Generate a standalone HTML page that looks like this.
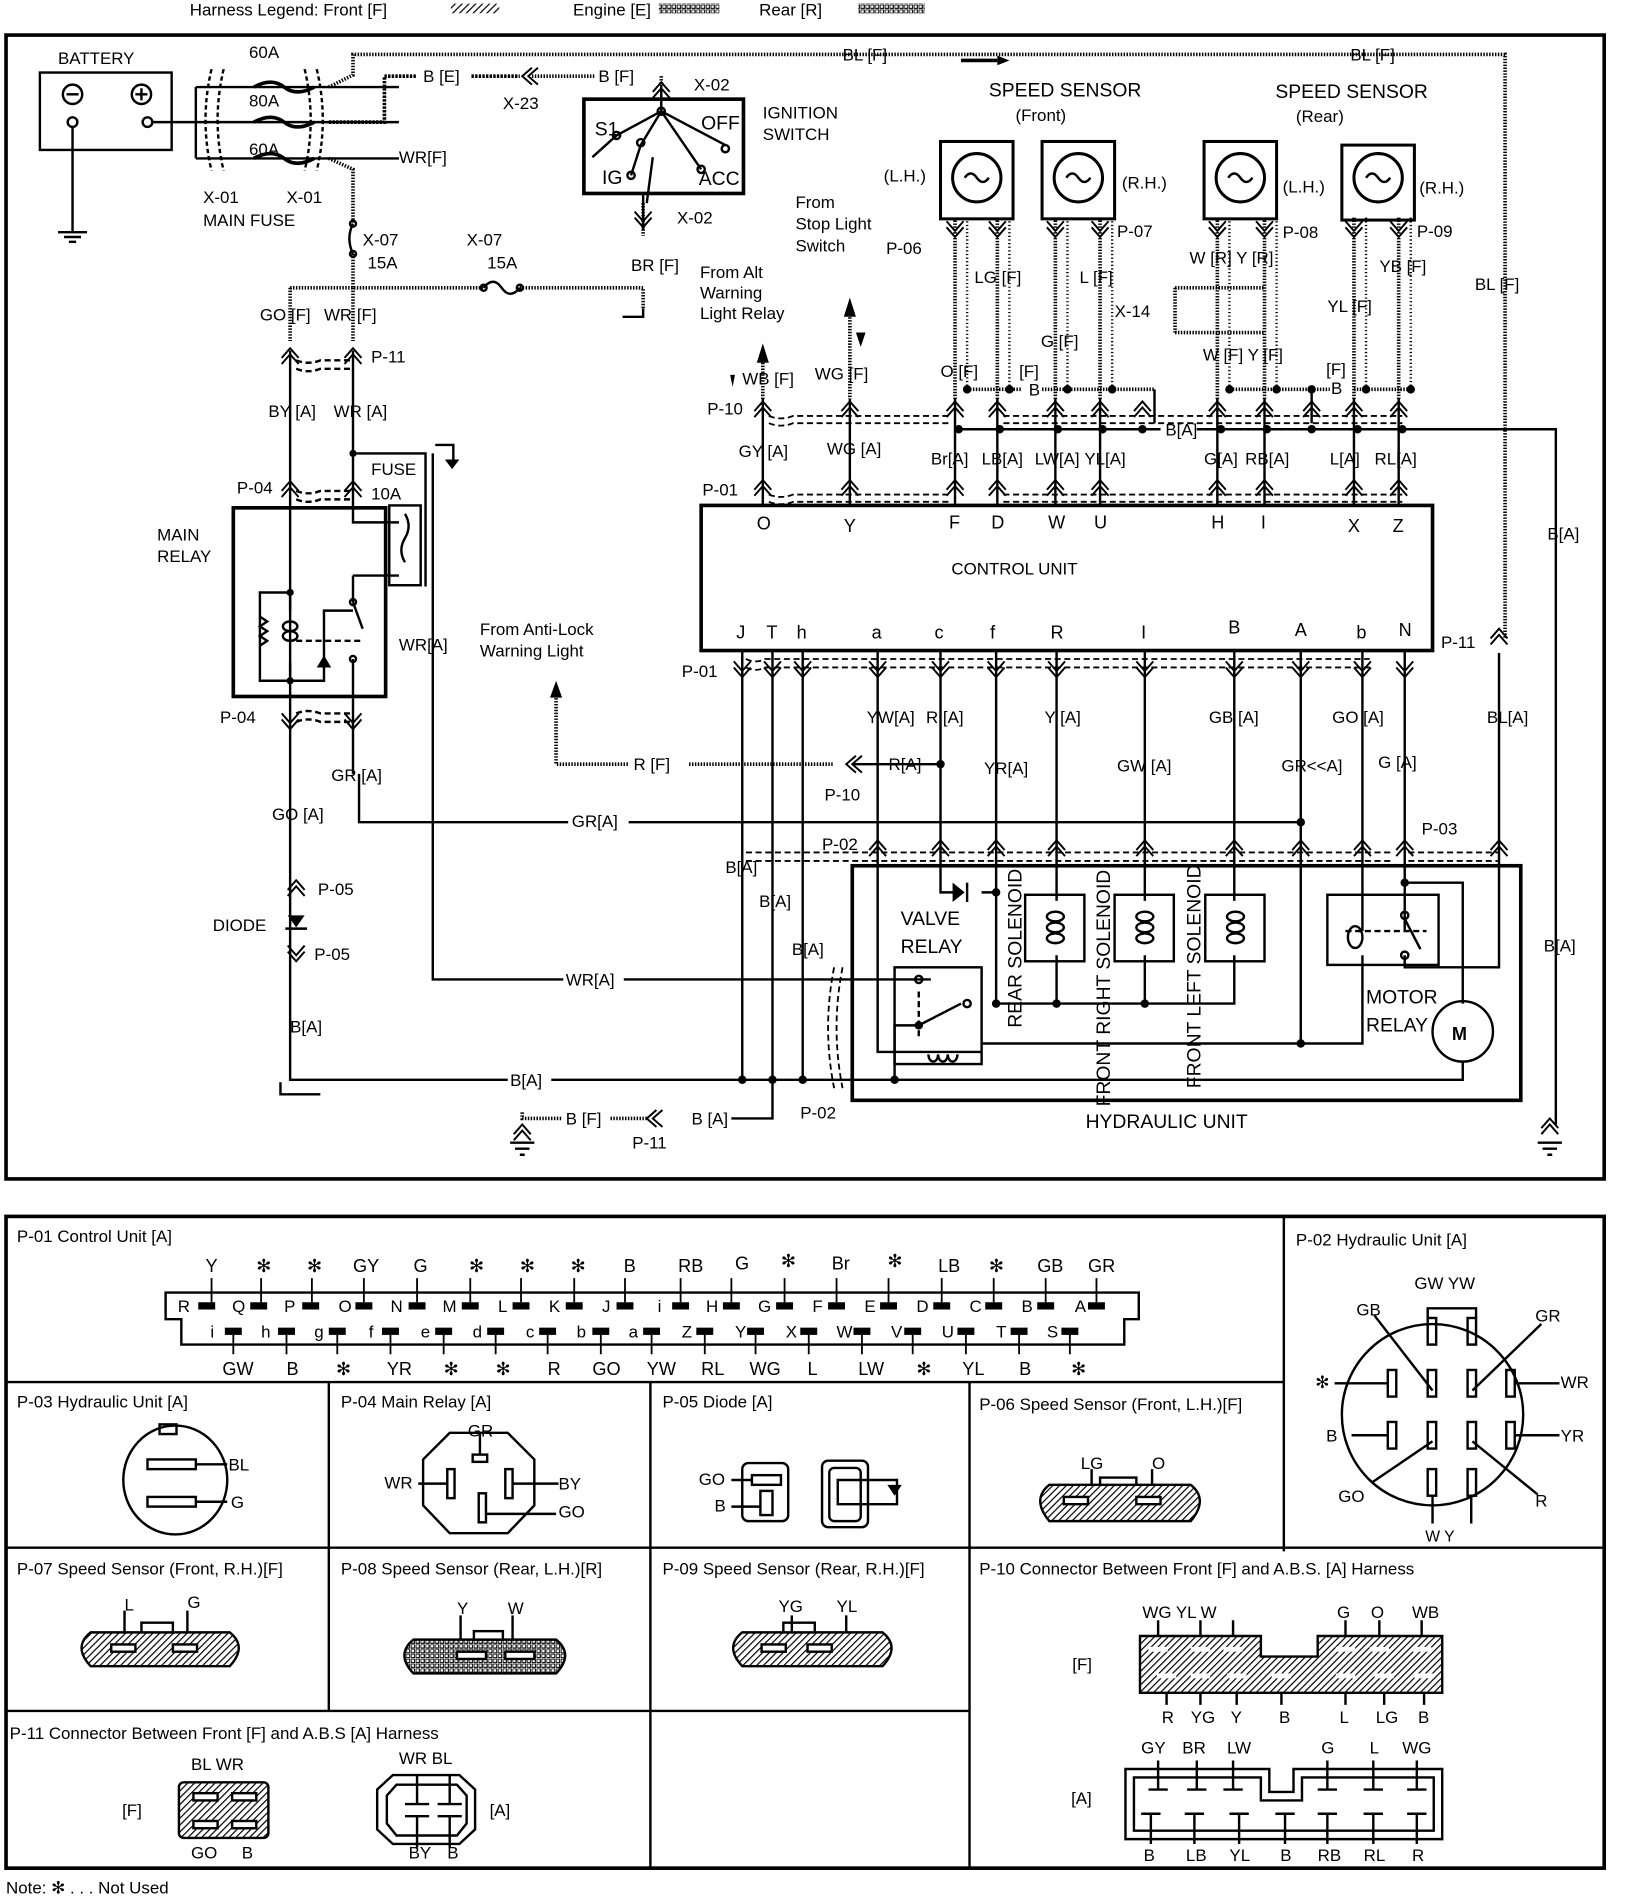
<!DOCTYPE html>
<html><head><meta charset="utf-8"><style>
html,body{margin:0;padding:0;background:#fff}
svg{display:block}
text{font-family:"Liberation Sans Narrow","Liberation Sans",sans-serif;fill:#000}
</style></head><body>
<svg width="1632" height="1902" viewBox="0 0 1350 1573" preserveAspectRatio="none" xmlns="http://www.w3.org/2000/svg">
<defs>
<pattern id="hf" width="4" height="4" patternUnits="userSpaceOnUse" patternTransform="rotate(45)"><rect width="4" height="4" fill="#fff"/><line x1="0" y1="0" x2="0" y2="4" stroke="#000" stroke-width="2"/></pattern>
<pattern id="he" width="4" height="4" patternUnits="userSpaceOnUse"><rect width="4" height="4" fill="#fff"/><rect width="3" height="3" fill="none" stroke="#000" stroke-width="1"/></pattern>
<g id="cu" fill="none" stroke="#000" stroke-width="1.6"><path d="M-7 8 L0 0 L7 8 M-7 13 L0 5 L7 13"/></g>
<g id="cd" fill="none" stroke="#000" stroke-width="1.6"><path d="M-7 -8 L0 0 L7 -8 M-7 -13 L0 -5 L7 -13"/></g>
</defs>
<g font-size="14">
<text x="157" y="13" font-size="14">Harness  Legend: Front [F]</text>
<rect x="373" y="3" width="40" height="8" fill="url(#hf)"/>
<text x="474" y="13">Engine [E]</text>
<rect x="545" y="3" width="50" height="8" fill="url(#he)"/>
<text x="628" y="13">Rear [R]</text>
<rect x="710" y="3" width="55" height="8" fill="url(#he)"/>

<rect x="5" y="29" width="1322" height="946" fill="none" stroke="#000" stroke-width="3"/>
<rect x="5" y="1006" width="1322" height="539" fill="none" stroke="#000" stroke-width="3"/>

<g stroke="#000" fill="none" stroke-width="2">
<rect x="33" y="60" width="109" height="64"/>
<circle cx="60" cy="78" r="8"/><line x1="55" y1="78" x2="65" y2="78"/>
<circle cx="117" cy="78" r="8"/><line x1="112" y1="78" x2="122" y2="78"/><line x1="117" y1="73" x2="117" y2="83"/>
<circle cx="60" cy="101" r="4"/><circle cx="122" cy="101" r="4"/>
<line x1="60" y1="105" x2="60" y2="192"/>
<line x1="48" y1="192" x2="72" y2="192"/><line x1="53" y1="196" x2="67" y2="196"/><line x1="57" y1="200" x2="63" y2="200"/>
<line x1="126" y1="101" x2="162" y2="101"/>
<path d="M162 72 V131 M162 72 H330 M162 101 H330 M162 131 H330"/>
<path d="M210 72 q15 -8 25 0 t25 0 M210 101 q15 -8 25 0 t25 0 M210 131 q15 -8 25 0 t25 0" stroke-width="3"/>
<path d="M175 62 q-10 70 0 140 M185 62 q-10 70 0 140" stroke-dasharray="6 4" transform="translate(0,-10) scale(1,0.6) translate(0,50)"/>
<path d="M262 62 q10 70 0 140 M252 62 q10 70 0 140" stroke-dasharray="6 4" transform="translate(0,-10) scale(1,0.6) translate(0,50)"/>
</g>
<text x="206" y="48">60A</text><text x="206" y="88">80A</text><text x="206" y="128">60A</text>
<text x="48" y="53">BATTERY</text>
<text x="168" y="168">X-01</text><text x="237" y="168">X-01</text><text x="168" y="187">MAIN FUSE</text>
<text x="330" y="135">WR[F]</text>

<g stroke="#000" fill="none" stroke-width="3" stroke-dasharray="1.2 1.2">
<path d="M272 72 L292 62 V45 H1245 V528"/>
<path d="M272 131 L292 140 V185"/>
<path d="M292 210 V238 M240 238 H400 M430 238 H532 V255"/>
<path d="M240 238 V282 M292 238 V282"/>
<path d="M532 168 V195"/>
<path d="M440 63 H492 M547 63 V70"/>
<path d="M460 575 V632 H520 M570 632 H690"/>
<path d="M631 300 V330 M703 260 V330"/>
<path d="M790 180 V330 M825 180 V330 M873 180 V330 M910 180 V330 M1007 180 V330 M1046 180 V330 M1120 180 V330 M1157 180 V330"/>
<path d="M432 920 V925 H465 M505 925 H535"/>
<path d="M972 238 H1046 M972 275 H1046 M972 238 V275"/>
<path d="M800 322 H845 M862 322 H955 M1015 322 H1100 M1120 322 H1165"/>
</g>
<g stroke="#000" fill="none" stroke-width="2" stroke-dasharray="1 2">
<path d="M800 180 V322 M835 180 V322 M883 180 V322 M920 180 V322 M1017 180 V322 M1056 180 V322 M1130 180 V322 M1167 180 V322"/>
</g>
<g stroke="#000" fill="none" stroke-width="3" stroke-dasharray="2 1">
<path d="M272 101 H318 V63 H345 M390 63 H430"/>
</g>
<text x="350" y="68">B [E]</text><text x="495" y="68">B [F]</text><text x="416" y="90">X-23</text>
<text x="697" y="50">BL [F]</text><text x="1117" y="50">BL [F]</text>
<path d="M795 50 H825" stroke="#000" stroke-width="3"/><path d="M825 46 L835 50 L825 54Z"/>
<use href="#cd" x="432" y="63" transform="rotate(90 432 63)"/>

<g stroke="#000" fill="none" stroke-width="2">
<rect x="483" y="82" width="132" height="78" stroke-width="3"/>
<path d="M547 70 V92 M547 92 L510 112 L490 130 M547 92 L530 120 M547 92 L600 120 M547 92 L580 140 M530 120 L522 145 M540 130 L535 168"/>
<circle cx="547" cy="92" r="3"/><circle cx="510" cy="112" r="3"/><circle cx="530" cy="118" r="3"/><circle cx="600" cy="123" r="3"/><circle cx="580" cy="140" r="3"/><circle cx="522" cy="145" r="3"/>
<line x1="532" y1="160" x2="532" y2="190"/>
</g>
<use href="#cu" x="547" y="68"/><use href="#cd" x="532" y="188"/>
<text x="492" y="112" font-size="16">S1</text><text x="580" y="107" font-size="16">OFF</text><text x="498" y="152" font-size="16">IG</text><text x="578" y="153" font-size="16">ACC</text>
<text x="574" y="75">X-02</text><text x="560" y="185">X-02</text>
<text x="631" y="98">IGNITION</text><text x="631" y="116">SWITCH</text>
<text x="522" y="224">BR [F]</text>
<path d="M532 255 V262 H515" stroke="#000" stroke-width="2" fill="none"/>
<text x="579" y="230">From Alt</text><text x="579" y="247">Warning</text><text x="579" y="264">Light Relay</text>
<text x="658" y="172">From</text><text x="658" y="190">Stop Light</text><text x="658" y="208">Switch</text>
<text x="733" y="210">P-06</text>

<g stroke="#000" fill="none" stroke-width="2">
<path d="M292 185 q-6 12 0 25"/><circle cx="292" cy="185" r="2.5"/><circle cx="292" cy="210" r="2.5"/>
<path d="M400 238 q8 -10 15 0 t15 0"/><circle cx="400" cy="238" r="2.5"/><circle cx="430" cy="238" r="2.5"/>
</g>
<text x="300" y="203">X-07</text><text x="304" y="222">15A</text>
<text x="386" y="203">X-07</text><text x="403" y="222">15A</text>
<text x="215" y="265">GO [F]</text><text x="268" y="265">WR [F]</text>

<g stroke="#000" fill="none" stroke-width="2">
<path d="M240 290 V893 H690"/>
<path d="M292 290 V375 H352 V485"/>
<path d="M292 375 V420"/>
<path d="M245 298 q10 4 20 0 h25 M245 305 q10 4 20 0 h25" stroke-dasharray="5 3"/>
<path d="M245 406 q10 4 20 0 h25 M245 413 q10 4 20 0 h25" stroke-dasharray="5 3"/>
<path d="M245 590 q10 -4 20 0 h25 M245 597 q10 -4 20 0 h25" stroke-dasharray="5 3"/>
<rect x="193" y="420" width="126" height="156" stroke-width="3"/>
<rect x="322" y="418" width="26" height="66"/>
<path d="M335 425 q6 10 0 20 q-6 10 0 20"/>
<path d="M292 420 V432 H330 M292 476 H330 M292 476 V498"/>
<path d="M292 578 V640 M297 640 V680 H1075"/>
<path d="M358 375 V810 H690"/>
<path d="M240 490 H215 V563 H240 M240 490 V505 M240 548 V563 H268 V505 H292"/>
<path d="M215 510 l6 4 l-6 4 l6 4 l-6 4 l6 4 l-6 4"/>
<path d="M245 530 H300" stroke-dasharray="5 3"/>
<path d="M292 498 L300 520" />
<circle cx="292" cy="498" r="2.5"/><circle cx="292" cy="545" r="2.5"/>
<path d="M292 545 V578"/>
<path d="M232 895 V905 H265"/>
<path d="M360 368 H375 V385"/>
</g>
<path d="M268 542 l-6 10 h12 z"/>
<path d="M234 518 a6 4 0 1 0 12 0 a6 4 0 1 0 -12 0 M234 526 a6 4 0 1 0 12 0 a6 4 0 1 0 -12 0" stroke="#000" fill="none" stroke-width="2"/>
<path d="M368 380 h12 l-6 8z"/>
<circle cx="240" cy="490" r="3"/><circle cx="240" cy="563" r="3"/><circle cx="292" cy="375" r="3"/>
<path d="M238 757 h14 l-7 10z"/><line x1="236" y1="768" x2="254" y2="768" stroke="#000" stroke-width="2"/>
<use href="#cu" x="240" y="288"/><use href="#cu" x="292" y="288"/>
<use href="#cu" x="240" y="398"/><use href="#cu" x="292" y="398"/>
<use href="#cd" x="240" y="603"/><use href="#cd" x="292" y="603"/>
<use href="#cu" x="245" y="728"/><use href="#cd" x="245" y="795"/>
<text x="307" y="300">P-11</text>
<text x="222" y="345">BY [A]</text><text x="276" y="345">WR [A]</text>
<text x="196" y="408">P-04</text><text x="307" y="393">FUSE</text><text x="307" y="413">10A</text>
<text x="130" y="447">MAIN</text><text x="130" y="465">RELAY</text>
<text x="330" y="538">WR[A]</text>
<text x="182" y="598">P-04</text><text x="274" y="646">GR [A]</text><text x="225" y="678">GO [A]</text>
<text x="263" y="740">P-05</text><text x="176" y="770">DIODE</text><text x="260" y="794">P-05</text>
<text x="240" y="854">B[A]</text>
<rect x="470" y="671" width="50" height="16" fill="#fff"/><text x="473" y="684">GR[A]</text>
<rect x="466" y="802" width="50" height="16" fill="#fff"/><text x="468" y="815">WR[A]</text>
<rect x="420" y="885" width="36" height="16" fill="#fff"/><text x="422" y="898">B[A]</text>
<text x="397" y="525">From Anti-Lock</text><text x="397" y="543">Warning Light</text>
<path d="M455 577 l5 -14 l5 14z"/>
<text x="524" y="637">R [F]</text>
<text x="717" y="598">YW[A]</text><text x="766" y="598">R [A]</text>
<text x="735" y="637">R[A]</text>
<text x="682" y="662">P-10</text>

<rect x="580" y="418" width="605" height="120" fill="none" stroke="#000" stroke-width="3"/>
<text x="787" y="475">CONTROL UNIT</text>
<g font-size="15">
<text x="626" y="438">O</text><text x="698" y="440">Y</text><text x="785" y="437">F</text><text x="820" y="437">D</text><text x="867" y="437">W</text><text x="905" y="437">U</text><text x="1002" y="437">H</text><text x="1043" y="437">I</text><text x="1115" y="440">X</text><text x="1152" y="440">Z</text>
<text x="609" y="528">J</text><text x="634" y="528">T</text><text x="659" y="528">h</text><text x="721" y="528">a</text><text x="773" y="528">c</text><text x="819" y="528">f</text><text x="869" y="528">R</text><text x="944" y="528">I</text><text x="1016" y="524">B</text><text x="1071" y="526">A</text><text x="1122" y="528">b</text><text x="1157" y="526">N</text>
</g>
<g stroke="#000" fill="none" stroke-width="2">
<path d="M631 330 V418 M703 330 V418 M790 330 V418 M825 330 V418 M873 330 V418 M910 330 V418 M1007 330 V418 M1046 330 V418 M1120 330 V418 M1157 330 V418"/>
<path d="M793 355 H960 M990 355 H1287 V930" />
<path d="M636 344 q10 4 20 0 h130 M636 350 q10 4 20 0 h130 M636 409 q10 4 20 0 h130 M636 415 q10 4 20 0 h130" stroke-dasharray="5 3" stroke-width="1.5"/>
<path d="M830 344 H1160 M830 350 H1160 M830 409 H1160 M830 415 H1160" stroke-dasharray="5 3" stroke-width="1.5"/>
<path d="M955 322 V350 M1085 322 V350"/>
</g>
<g fill="#000">
<circle cx="800" cy="322" r="3.5"/><circle cx="835" cy="322" r="3.5"/><circle cx="883" cy="322" r="3.5"/><circle cx="920" cy="322" r="3.5"/><circle cx="1017" cy="322" r="3.5"/><circle cx="1056" cy="322" r="3.5"/><circle cx="1085" cy="322" r="3.5"/><circle cx="1130" cy="322" r="3.5"/><circle cx="1167" cy="322" r="3.5"/>
<circle cx="793" cy="355" r="3.5"/><circle cx="827" cy="355" r="3.5"/><circle cx="875" cy="355" r="3.5"/><circle cx="912" cy="355" r="3.5"/><circle cx="945" cy="355" r="3.5"/><circle cx="1010" cy="355" r="3.5"/><circle cx="1048" cy="355" r="3.5"/><circle cx="1085" cy="355" r="3.5"/><circle cx="1123" cy="355" r="3.5"/><circle cx="1160" cy="355" r="3.5"/>
</g>
<g>
<use href="#cu" x="631" y="332"/><use href="#cu" x="703" y="332"/><use href="#cu" x="790" y="332"/><use href="#cu" x="825" y="332"/><use href="#cu" x="873" y="332"/><use href="#cu" x="910" y="332"/><use href="#cu" x="945" y="332"/><use href="#cu" x="1007" y="332"/><use href="#cu" x="1046" y="332"/><use href="#cu" x="1085" y="332"/><use href="#cu" x="1120" y="332"/><use href="#cu" x="1157" y="332"/>
<use href="#cu" x="631" y="397"/><use href="#cu" x="703" y="397"/><use href="#cu" x="790" y="397"/><use href="#cu" x="825" y="397"/><use href="#cu" x="873" y="397"/><use href="#cu" x="910" y="397"/><use href="#cu" x="1007" y="397"/><use href="#cu" x="1046" y="397"/><use href="#cu" x="1120" y="397"/><use href="#cu" x="1157" y="397"/>
</g>
<path d="M626 300 l5 -16 l5 16z"/><path d="M698 262 l5 -16 l5 16z"/><path d="M708 275 l4 12 l4 -12z"/><path d="M604 310 l2 10 l2 -10z"/>
<text x="614" y="318">WB [F]</text><text x="674" y="314">WG [F]</text>
<text x="585" y="343">P-10</text><text x="611" y="378">GY [A]</text><text x="684" y="376">WG [A]</text>
<text x="581" y="410">P-01</text>
<text x="778" y="312">O [F]</text><text x="843" y="312">[F]</text><text x="851" y="327">B</text>
<text x="806" y="234">LG [F]</text><text x="893" y="234">L [F]</text><text x="861" y="287">G [F]</text>
<text x="922" y="262">X-14</text>
<text x="984" y="218">W [R] Y [R]</text><text x="995" y="298">W [F] Y [F]</text>
<text x="1097" y="310">[F]</text><text x="1101" y="326">B</text>
<text x="1141" y="225">YB [F]</text><text x="1098" y="258">YL [F]</text><text x="1220" y="240">BL [F]</text>
<text x="964" y="360">B[A]</text>
<text x="770" y="384">Br[A]</text><text x="812" y="384">LB[A]</text><text x="856" y="384">LW[A]</text><text x="897" y="384">YL[A]</text>
<text x="996" y="384">G[A]</text><text x="1030" y="384">RB[A]</text><text x="1100" y="384">L[A]</text><text x="1137" y="384">RL[A]</text>
<text x="1280" y="446">B[A]</text>
<text x="1192" y="536">P-11</text>
<use href="#cu" x="1240" y="520"/>

<g stroke="#000" fill="none" stroke-width="2.5">
<rect x="778" y="117" width="60" height="64"/><rect x="862" y="117" width="60" height="64"/>
<rect x="996" y="117" width="60" height="64"/><rect x="1110" y="120" width="60" height="62"/>
<circle cx="808" cy="147" r="20"/><circle cx="892" cy="147" r="20"/><circle cx="1026" cy="147" r="20"/><circle cx="1140" cy="147" r="20"/>
<path d="M798 147 q5 -7 10 0 t10 0 M882 147 q5 -7 10 0 t10 0 M1016 147 q5 -7 10 0 t10 0 M1130 147 q5 -7 10 0 t10 0" stroke-width="2"/>
</g>
<g><use href="#cd" x="790" y="196"/><use href="#cd" x="825" y="196"/><use href="#cd" x="873" y="196"/><use href="#cd" x="910" y="196"/><use href="#cd" x="1007" y="196"/><use href="#cd" x="1046" y="196"/><use href="#cd" x="1120" y="196"/><use href="#cd" x="1157" y="196"/></g>
<text x="818" y="80" font-size="16">SPEED SENSOR</text><text x="840" y="100">(Front)</text>
<text x="1055" y="81" font-size="16">SPEED SENSOR</text><text x="1072" y="101">(Rear)</text>
<text x="731" y="150">(L.H.)</text><text x="928" y="156">(R.H.)</text><text x="1061" y="159">(L.H.)</text><text x="1174" y="160">(R.H.)</text>
<text x="924" y="196">P-07</text><text x="1061" y="197">P-08</text><text x="1172" y="196">P-09</text>

<g stroke="#000" fill="none" stroke-width="2">
<path d="M614 538 V893 M639 538 V925 H605 M664 538 V893"/>
<path d="M726 538 V870 H812"/>
<path d="M778 538 V738 H790 M778 632 H705"/>
<path d="M824 538 V830 M812 738 H824"/>
<path d="M874 538 V745 M874 790 V830 M824 830 H947"/>
<path d="M947 538 V745 M947 790 V830"/>
<path d="M1021 538 V745 M1021 790 V830 H947"/>
<path d="M1076 538 V863 H812 M1076 680"/>
<path d="M1127 538 V770 M1127 790 V863 H1076"/>
<path d="M1162 538 V730 H1210 V830 M1162 730 V770 M1162 790 V800 H1240 V700"/>
<path d="M1240 540 V700"/>
<path d="M690 893 H1210 V878"/>
<path d="M740 893 V848 H760"/>
<path d="M690 810 H770"/>
<rect x="705" y="716" width="553" height="194" stroke-width="3"/>
<rect x="740" y="800" width="72" height="80"/>
<rect x="848" y="740" width="49" height="55"/><rect x="922" y="740" width="49" height="55"/><rect x="997" y="740" width="49" height="55"/>
<rect x="1098" y="740" width="92" height="58"/>
<circle cx="1210" cy="853" r="25"/>
<path d="M760 848 L795 830"/><circle cx="800" cy="830" r="3"/><circle cx="760" cy="810" r="3"/>
<path d="M760 820 V860" stroke-dasharray="5 3"/>
<path d="M1113 770 H1180" stroke-dasharray="5 3"/>
<path d="M1162 760 L1175 785"/><circle cx="1162" cy="757" r="3"/><circle cx="1162" cy="790" r="3"/>
<path d="M617 545 q8 4 16 0 h500 M617 552 q8 4 16 0 h500" stroke-dasharray="5 3" stroke-width="1.5"/>
<path d="M617 705 H1150 M617 712 H1150 M1165 705 H1240 M1165 712 H1240" stroke-dasharray="5 3" stroke-width="1.5"/>
<path d="M690 800 q-10 50 0 100 M697 800 q-10 50 0 100" stroke-dasharray="5 3" stroke-width="1.5"/>
</g>
<g stroke="#000" stroke-width="2" fill="none">
<path d="M866 758 a7 4 0 1 0 14 0 a7 4 0 1 0 -14 0 M866 767 a7 4 0 1 0 14 0 a7 4 0 1 0 -14 0 M866 776 a7 4 0 1 0 14 0 a7 4 0 1 0 -14 0"/>
<path d="M940 758 a7 4 0 1 0 14 0 a7 4 0 1 0 -14 0 M940 767 a7 4 0 1 0 14 0 a7 4 0 1 0 -14 0 M940 776 a7 4 0 1 0 14 0 a7 4 0 1 0 -14 0"/>
<path d="M1015 758 a7 4 0 1 0 14 0 a7 4 0 1 0 -14 0 M1015 767 a7 4 0 1 0 14 0 a7 4 0 1 0 -14 0 M1015 776 a7 4 0 1 0 14 0 a7 4 0 1 0 -14 0"/>
<path d="M1115 775 a4 6 0 1 0 12 0 a4 6 0 1 0 -12 0"/>
<path d="M768 872 a4 6 0 1 0 8 0 a4 6 0 1 0 8 0 a4 6 0 1 0 8 0"/>
</g>
<path d="M788 730 l10 8 l-10 8z"/><line x1="800" y1="730" x2="800" y2="746" stroke="#000" stroke-width="2"/>
<g fill="#000">
<circle cx="614" cy="893" r="3.5"/><circle cx="639" cy="893" r="3.5"/><circle cx="664" cy="893" r="3.5"/><circle cx="740" cy="893" r="3.5"/>
<circle cx="778" cy="632" r="3.5"/><circle cx="824" cy="738" r="3.5"/><circle cx="824" cy="830" r="3.5"/><circle cx="874" cy="830" r="3.5"/><circle cx="947" cy="830" r="3.5"/>
<circle cx="1076" cy="680" r="3.5"/><circle cx="1076" cy="863" r="3.5"/><circle cx="1162" cy="730" r="3.5"/><circle cx="760" cy="848" r="3.5"/>
</g>
<g>
<use href="#cd" x="614" y="560"/><use href="#cd" x="639" y="560"/><use href="#cd" x="664" y="560"/><use href="#cd" x="726" y="560"/><use href="#cd" x="778" y="560"/><use href="#cd" x="824" y="560"/><use href="#cd" x="874" y="560"/><use href="#cd" x="947" y="560"/><use href="#cd" x="1021" y="560"/><use href="#cd" x="1076" y="560"/><use href="#cd" x="1127" y="560"/><use href="#cd" x="1162" y="560"/>
<use href="#cu" x="726" y="695"/><use href="#cu" x="778" y="695"/><use href="#cu" x="824" y="695"/><use href="#cu" x="874" y="695"/><use href="#cu" x="947" y="695"/><use href="#cu" x="1021" y="695"/><use href="#cu" x="1076" y="695"/><use href="#cu" x="1127" y="695"/><use href="#cu" x="1162" y="695"/><use href="#cu" x="1240" y="695"/>
<use href="#cd" x="700" y="632" transform="rotate(90 700 632)"/>
<use href="#cd" x="535" y="925" transform="rotate(90 535 925)"/>
<use href="#cu" x="1282" y="925"/><use href="#cu" x="432" y="930"/>
</g>
<g stroke="#000" stroke-width="2"><path d="M1272 945 H1292 M1276 950 H1288 M1280 955 H1284 M422 945 H442 M426 950 H438 M430 955 H434"/></g>
<text x="1230" y="598">BL[A]</text><text x="1176" y="690">P-03</text>
<text x="864" y="598">Y [A]</text><text x="1000" y="598">GB [A]</text><text x="1102" y="598">GO [A]</text>
<text x="814" y="640">YR[A]</text><text x="924" y="638">GW [A]</text><text x="1060" y="638">GR&lt;&lt;A]</text><text x="1140" y="635">G [A]</text>
<text x="564" y="560">P-01</text><text x="680" y="703">P-02</text><text x="662" y="925">P-02</text>
<text x="600" y="722">B[A]</text><text x="628" y="750">B[A]</text><text x="655" y="790">B[A]</text>
<text x="1277" y="787">B[A]</text>
<text x="468" y="930">B [F]</text><text x="572" y="930">B [A]</text><text x="523" y="950">P-11</text>
<text x="745" y="765" font-size="16">VALVE</text><text x="745" y="788" font-size="16">RELAY</text>
<text x="1130" y="830" font-size="16">MOTOR</text><text x="1130" y="853" font-size="16">RELAY</text>
<text x="1201" y="860" font-weight="bold" font-size="15">M</text>
<text x="898" y="933" font-size="16">HYDRAULIC UNIT</text>
<g font-size="16">
<text transform="translate(845 850) rotate(-90)">REAR SOLENOID</text>
<text transform="translate(918 915) rotate(-90)">FRONT RIGHT SOLENOID</text>
<text transform="translate(993 900) rotate(-90)">FRONT LEFT SOLENOID</text>
</g>

<g stroke="#000" stroke-width="2" fill="none">
<path d="M1062 1006 V1283 M5 1143 H1062 M5 1280 H1327 M272 1143 V1415 M538 1143 V1545 M802 1143 V1545 M5 1415 H802"/>
</g>
<text x="14" y="1027">P-01 Control Unit [A]</text>
<text x="1072" y="1030">P-02 Hydraulic Unit [A]</text>
<text x="14" y="1164">P-03 Hydraulic Unit [A]</text>
<text x="282" y="1164">P-04 Main Relay [A]</text>
<text x="548" y="1164">P-05 Diode [A]</text>
<text x="810" y="1166">P-06 Speed Sensor (Front, L.H.)[F]</text>
<text x="14" y="1302">P-07 Speed Sensor (Front, R.H.)[F]</text>
<text x="282" y="1302">P-08 Speed Sensor (Rear, L.H.)[R]</text>
<text x="548" y="1302">P-09 Speed Sensor (Rear, R.H.)[F]</text>
<text x="810" y="1302">P-10 Connector Between Front [F] and A.B.S. [A] Harness</text>
<text x="8" y="1438">P-11 Connector Between Front [F]  and A.B.S [A] Harness</text>
<text x="5" y="1566">Note: ✻ . . . Not Used</text>

<path d="M137 1069 H942 V1091 H930 V1112 H150 V1091 H137Z" stroke="#000" stroke-width="2" fill="none"/>
<g font-size="14">
<text x="147" y="1085">R</text><text x="192" y="1085">Q</text><text x="235" y="1085">P</text><text x="280" y="1085">O</text><text x="323" y="1085">N</text><text x="366" y="1085">M</text><text x="412" y="1085">L</text><text x="454" y="1085">K</text><text x="498" y="1085">J</text><text x="544" y="1085">i</text><text x="584" y="1085">H</text><text x="627" y="1085">G</text><text x="672" y="1085">F</text><text x="715" y="1085">E</text><text x="758" y="1085">D</text><text x="802" y="1085">C</text><text x="845" y="1085">B</text><text x="889" y="1085">A</text>
<text x="174" y="1106">i</text><text x="216" y="1106">h</text><text x="260" y="1106">g</text><text x="305" y="1106">f</text><text x="348" y="1106">e</text><text x="391" y="1106">d</text><text x="435" y="1106">c</text><text x="477" y="1106">b</text><text x="520" y="1106">a</text><text x="564" y="1106">Z</text><text x="608" y="1106">Y</text><text x="650" y="1106">X</text><text x="692" y="1106">W</text><text x="737" y="1106">V</text><text x="779" y="1106">U</text><text x="824" y="1106">T</text><text x="866" y="1106">S</text>
</g>
<g fill="#000">
<rect x="164" y="1077" width="14" height="6"/><rect x="207" y="1077" width="14" height="6"/><rect x="250" y="1077" width="14" height="6"/><rect x="294" y="1077" width="14" height="6"/><rect x="338" y="1077" width="14" height="6"/><rect x="382" y="1077" width="14" height="6"/><rect x="424" y="1077" width="14" height="6"/><rect x="468" y="1077" width="14" height="6"/><rect x="510" y="1077" width="14" height="6"/><rect x="556" y="1077" width="14" height="6"/><rect x="598" y="1077" width="14" height="6"/><rect x="642" y="1077" width="14" height="6"/><rect x="685" y="1077" width="14" height="6"/><rect x="728" y="1077" width="14" height="6"/><rect x="772" y="1077" width="14" height="6"/><rect x="815" y="1077" width="14" height="6"/><rect x="858" y="1077" width="14" height="6"/><rect x="900" y="1077" width="14" height="6"/>
<rect x="186" y="1098" width="14" height="6"/><rect x="230" y="1098" width="14" height="6"/><rect x="272" y="1098" width="14" height="6"/><rect x="316" y="1098" width="14" height="6"/><rect x="360" y="1098" width="14" height="6"/><rect x="403" y="1098" width="14" height="6"/><rect x="446" y="1098" width="14" height="6"/><rect x="490" y="1098" width="14" height="6"/><rect x="532" y="1098" width="14" height="6"/><rect x="576" y="1098" width="14" height="6"/><rect x="618" y="1098" width="14" height="6"/><rect x="662" y="1098" width="14" height="6"/><rect x="706" y="1098" width="14" height="6"/><rect x="748" y="1098" width="14" height="6"/><rect x="792" y="1098" width="14" height="6"/><rect x="836" y="1098" width="14" height="6"/><rect x="878" y="1098" width="14" height="6"/>
</g>
<g stroke="#000" stroke-width="1.5">
<path d="M175 1057 V1077 M216 1057 V1077 M258 1057 V1077 M301 1057 V1077 M345 1057 V1077 M389 1057 V1077 M431 1057 V1077 M475 1057 V1077 M517 1057 V1077 M563 1057 V1077 M605 1057 V1077 M649 1057 V1077 M692 1057 V1077 M735 1057 V1077 M779 1057 V1077 M822 1057 V1077 M865 1057 V1077 M907 1057 V1077"/>
<path d="M193 1104 V1120 M237 1104 V1120 M279 1104 V1120 M323 1104 V1120 M367 1104 V1120 M410 1104 V1120 M453 1104 V1120 M497 1104 V1120 M539 1104 V1120 M583 1104 V1120 M625 1104 V1120 M669 1104 V1120 M713 1104 V1120 M755 1104 V1120 M799 1104 V1120 M843 1104 V1120 M885 1104 V1120"/>
</g>
<g font-size="15">
<text x="170" y="1052">Y</text><text x="212" y="1052">✻</text><text x="254" y="1052">✻</text><text x="292" y="1052">GY</text><text x="342" y="1052">G</text><text x="388" y="1052">✻</text><text x="430" y="1052">✻</text><text x="472" y="1052">✻</text><text x="516" y="1052">B</text><text x="561" y="1052">RB</text><text x="608" y="1050">G</text><text x="646" y="1048">✻</text><text x="688" y="1050">Br</text><text x="734" y="1048">✻</text><text x="776" y="1052">LB</text><text x="818" y="1052">✻</text><text x="858" y="1052">GB</text><text x="900" y="1052">GR</text>
<text x="184" y="1137">GW</text><text x="237" y="1137">B</text><text x="278" y="1137">✻</text><text x="320" y="1137">YR</text><text x="367" y="1137">✻</text><text x="410" y="1137">✻</text><text x="453" y="1137">R</text><text x="490" y="1137">GO</text><text x="535" y="1137">YW</text><text x="580" y="1137">RL</text><text x="620" y="1137">WG</text><text x="668" y="1137">L</text><text x="710" y="1137">LW</text><text x="758" y="1137">✻</text><text x="796" y="1137">YL</text><text x="843" y="1137">B</text><text x="886" y="1137">✻</text>
</g>

<g stroke="#000" stroke-width="2" fill="none">
<circle cx="1185" cy="1170" r="75"/>
<rect x="1181" y="1090" width="7" height="22"/><rect x="1214" y="1090" width="7" height="22"/>
<rect x="1148" y="1133" width="7" height="22"/><rect x="1181" y="1133" width="7" height="22"/><rect x="1214" y="1133" width="7" height="22"/><rect x="1246" y="1133" width="7" height="22"/>
<rect x="1148" y="1176" width="7" height="22"/><rect x="1181" y="1176" width="7" height="22"/><rect x="1214" y="1176" width="7" height="22"/><rect x="1246" y="1176" width="7" height="22"/>
<rect x="1181" y="1215" width="7" height="22"/><rect x="1214" y="1215" width="7" height="22"/>
<path d="M1104 1144 H1148 M1118 1187 H1148 M1253 1144 H1290 M1253 1187 H1290 M1137 1088 L1185 1150 M1275 1095 L1218 1150 M1135 1226 L1185 1192 M1272 1236 L1218 1192 M1185 1237 V1260 M1217 1237 V1260 M1181 1090 V1082 H1221 V1090"/>
</g>
<text x="1170" y="1066">GW YW</text><text x="1122" y="1088">GB</text><text x="1270" y="1093">GR</text>
<text x="1088" y="1148">✻</text><text x="1291" y="1148">WR</text><text x="1097" y="1192">B</text><text x="1291" y="1192">YR</text>
<text x="1107" y="1242">GO</text><text x="1270" y="1246">R</text><text x="1179" y="1275" font-size="13">W  Y</text>

<g stroke="#000" stroke-width="2" fill="none">
<ellipse cx="145" cy="1224" rx="43" ry="45"/><rect x="132" y="1178" width="14" height="8"/>
<rect x="122" y="1207" width="40" height="8"/><rect x="122" y="1238" width="40" height="8"/>
<path d="M162 1211 H188 M162 1242 H188"/>
</g>
<text x="189" y="1216">BL</text><text x="191" y="1247">G</text>

<g stroke="#000" stroke-width="2" fill="none">
<path d="M372 1185 H420 L442 1207 V1245 L420 1268 H372 L350 1245 V1207 Z"/>
<rect x="391" y="1203" width="12" height="6"/><rect x="370" y="1215" width="6" height="24"/><rect x="418" y="1215" width="6" height="24"/><rect x="396" y="1235" width="6" height="24"/>
<path d="M397 1186 V1203 M346 1227 H370 M424 1227 H462 M402 1252 H460"/>
</g>
<text x="387" y="1188">GR</text><text x="318" y="1231">WR</text><text x="462" y="1232">BY</text><text x="462" y="1255">GO</text>

<g stroke="#000" stroke-width="2" fill="none">
<rect x="614" y="1210" width="38" height="48" rx="5"/><rect x="622" y="1220" width="24" height="8"/><rect x="629" y="1233" width="10" height="20"/>
<path d="M605 1224 H622 M605 1246 H629"/>
<rect x="680" y="1208" width="38" height="55" rx="5"/><rect x="686" y="1214" width="26" height="44" rx="4"/>
<path d="M693 1224 H742 V1244 H693 Z"/>
</g>
<path d="M734 1228 h12 l-6 9z"/>
<text x="578" y="1228">GO</text><text x="591" y="1250">B</text>

<g stroke="#000" stroke-width="2">
<path d="M868 1228 H985 Q1000 1240 985 1258 H868 Q853 1240 868 1228Z" fill="url(#hf)"/>
<rect x="910" y="1222" width="30" height="6" fill="#fff"/>
<rect x="880" y="1238" width="20" height="6" fill="#fff"/><rect x="940" y="1238" width="20" height="6" fill="#fff"/>
<path d="M75 1350 H190 Q205 1362 190 1378 H75 Q60 1362 75 1350Z" fill="url(#hf)"/>
<rect x="117" y="1342" width="26" height="8" fill="#fff"/>
<rect x="92" y="1360" width="20" height="6" fill="#fff"/><rect x="143" y="1360" width="20" height="6" fill="#fff"/>
<path d="M342 1356 H460 Q475 1368 460 1384 H342 Q327 1368 342 1356Z" fill="url(#he)"/>
<rect x="392" y="1349" width="24" height="7" fill="#fff"/>
<rect x="378" y="1366" width="24" height="6" fill="#fff"/><rect x="418" y="1366" width="24" height="6" fill="#fff"/>
<path d="M614 1350 H730 Q745 1362 730 1378 H614 Q599 1362 614 1350Z" fill="url(#hf)"/>
<rect x="648" y="1342" width="26" height="8" fill="#fff"/>
<rect x="630" y="1360" width="20" height="6" fill="#fff"/><rect x="668" y="1360" width="20" height="6" fill="#fff"/>
<path d="M903 1215 V1228 M953 1215 V1228 M103 1332 V1350 M155 1332 V1350 M381 1336 V1356 M424 1336 V1356 M655 1336 V1350 M700 1336 V1350" fill="none"/>
</g>
<text x="894" y="1215">LG</text><text x="953" y="1215">O</text>
<text x="103" y="1332">L</text><text x="155" y="1330">G</text>
<text x="378" y="1335">Y</text><text x="420" y="1335">W</text>
<text x="644" y="1333">YG</text><text x="692" y="1333">YL</text>

<!-- P-10 -->
<g stroke="#000" stroke-width="2">
<path d="M943 1353 H1043 V1370 H1090 V1353 H1193 V1400 H943Z" fill="url(#hf)"/>
<path d="M958 1340 V1353 M993 1340 V1353 M1020 1340 V1353 M1113 1340 V1353 M1141 1340 V1353 M1176 1340 V1353 M965 1400 V1410 M993 1400 V1410 M1023 1400 V1410 M1060 1400 V1410 M1113 1400 V1410 M1145 1400 V1410 M1178 1400 V1410" fill="none"/>
<path d="M931 1463 H1050 V1482 H1070 V1463 H1193 V1521 H931Z M938 1470 H1043 V1489 H1077 V1470 H1186 V1514 H938Z" fill="none"/>
<path d="M958 1456 V1480 M990 1456 V1480 M1020 1456 V1480 M1098 1456 V1480 M1136 1456 V1480 M1172 1456 V1480 M950 1480 H966 M982 1480 H998 M1012 1480 H1028 M1090 1480 H1106 M1128 1480 H1144 M1164 1480 H1180" fill="none"/>
<path d="M952 1500 V1525 M988 1500 V1525 M1025 1500 V1525 M1063 1500 V1525 M1098 1500 V1525 M1136 1500 V1525 M1172 1500 V1525 M944 1500 H960 M980 1500 H996 M1017 1500 H1033 M1055 1500 H1071 M1090 1500 H1106 M1128 1500 H1144 M1164 1500 H1180" fill="none"/>
</g>
<g fill="#fff"><rect x="950" y="1362" width="16" height="4"/><rect x="985" y="1362" width="16" height="4"/><rect x="1012" y="1362" width="16" height="4"/><rect x="1105" y="1362" width="16" height="4"/><rect x="1133" y="1362" width="16" height="4"/><rect x="1168" y="1362" width="16" height="4"/>
<rect x="957" y="1384" width="16" height="4"/><rect x="985" y="1384" width="16" height="4"/><rect x="1015" y="1384" width="16" height="4"/><rect x="1052" y="1384" width="16" height="4"/><rect x="1105" y="1384" width="16" height="4"/><rect x="1137" y="1384" width="16" height="4"/><rect x="1170" y="1384" width="16" height="4"/></g>
<text x="945" y="1338">WG YL W</text><text x="1106" y="1338">G</text><text x="1134" y="1338">O</text><text x="1168" y="1338">WB</text>
<text x="887" y="1381">[F]</text>
<text x="961" y="1425">R</text><text x="985" y="1425">YG</text><text x="1018" y="1425">Y</text><text x="1058" y="1425">B</text><text x="1108" y="1425">L</text><text x="1138" y="1425">LG</text><text x="1173" y="1425">B</text>
<text x="944" y="1450">GY</text><text x="978" y="1450">BR</text><text x="1015" y="1450">LW</text><text x="1093" y="1450">G</text><text x="1133" y="1450">L</text><text x="1160" y="1450">WG</text>
<text x="886" y="1492">[A]</text>
<text x="946" y="1539">B</text><text x="981" y="1539">LB</text><text x="1017" y="1539">YL</text><text x="1059" y="1539">B</text><text x="1090" y="1539">RB</text><text x="1128" y="1539">RL</text><text x="1168" y="1539">R</text>

<!-- P-11 -->
<g stroke="#000" stroke-width="2">
<rect x="148" y="1474" width="74" height="46" rx="4" fill="url(#hf)"/>
<g fill="#fff"><rect x="160" y="1483" width="20" height="6"/><rect x="192" y="1483" width="20" height="6"/><rect x="160" y="1506" width="20" height="6"/><rect x="192" y="1506" width="20" height="6"/></g>
<path d="M325 1468 H380 L393 1480 V1513 L380 1525 H325 L312 1513 V1480 Z M328 1476 H378 L386 1485 V1508 L378 1518 H328 L320 1508 V1485Z" fill="none"/>
<path d="M345 1468 V1492 M372 1468 V1492 M345 1502 V1528 M372 1502 V1528 M335 1492 H355 M362 1492 H382 M335 1502 H355 M362 1502 H382" fill="none"/>
</g>
<text x="158" y="1464">BL WR</text><text x="101" y="1502">[F]</text><text x="158" y="1537">GO</text><text x="200" y="1537">B</text>
<text x="330" y="1459">WR BL</text><text x="405" y="1502">[A]</text><text x="338" y="1537">BY</text><text x="370" y="1537">B</text>
</g>
</svg>
</body></html>
